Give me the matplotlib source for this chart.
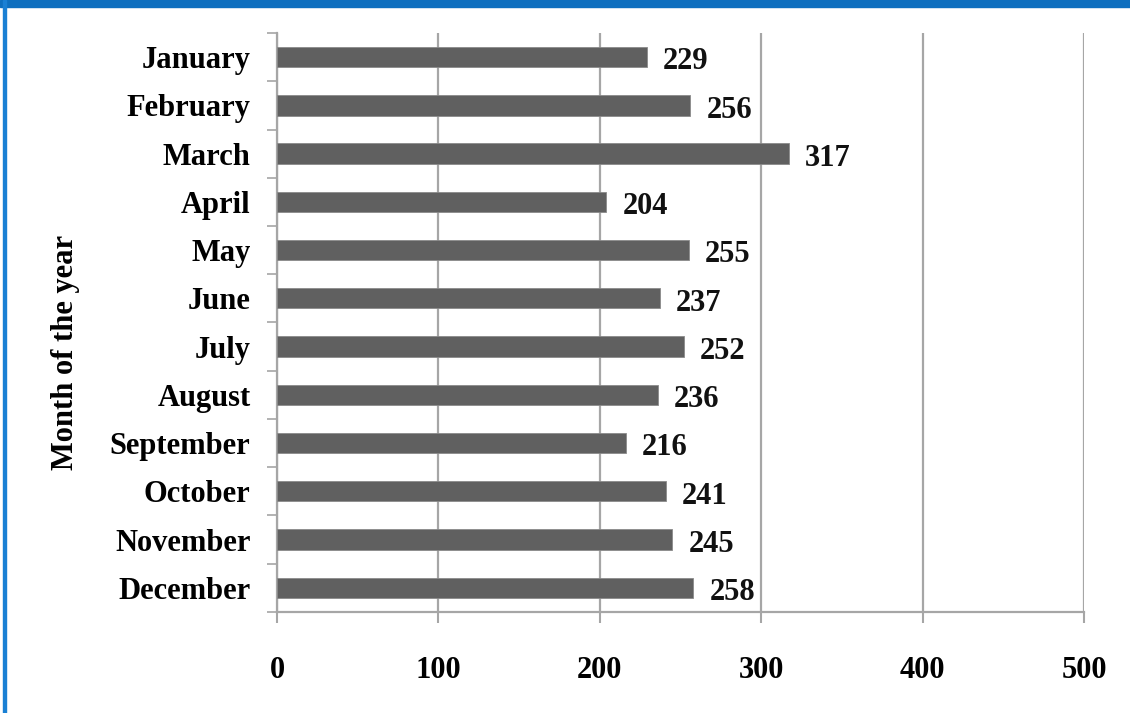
import numpy as np
import matplotlib
matplotlib.use('Agg')
import matplotlib.pyplot as plt
from matplotlib.patches import Rectangle

# ── data ─────────────────────────────────────────────────────────────────────
months = ['January', 'February', 'March', 'April', 'May', 'June',
          'July', 'August', 'September', 'October', 'November', 'December']
counts = [229, 256, 317, 204, 255, 237, 252, 236, 216, 241, 245, 258]
x_ticks = [0, 100, 200, 300, 400, 500]

serif = ['Liberation Serif', 'DejaVu Serif']
bar_col = '#606060'
grid_col = '#a6a6a6'
fs = 22

fig = plt.figure(figsize=(11.3, 7.13), dpi=100)
ax = fig.add_axes([0.2451, 0.1417, 0.7142, 0.812])

y = np.arange(len(months))
ax.barh(y, counts, height=0.42, color=bar_col, edgecolor='#8a8a8a', lw=0.6, zorder=3)

for yi, v in zip(y, counts):
    ax.text(v + 10, yi + 0.1, f'{v}', ha='left', va='center',
            fontsize=fs, fontweight='bold', family=serif, color='#111111')

ax.set_xlim(0, 500)
ax.set_ylim(len(months) - 0.5, -0.5)

# category ticks sit between bars (Excel style)
ax.set_yticks(np.arange(-0.5, len(months), 1.0))
ax.set_yticklabels([])
ax.set_yticks(y, minor=True)
ax.set_yticklabels(months, minor=True, fontsize=fs, fontweight='bold', family=serif)
ax.tick_params(axis='y', which='minor', length=0, pad=19)
ax.tick_params(axis='y', which='major', length=7, width=1.2, color=grid_col)

ax.set_xticks(x_ticks)
ax.set_xticklabels([str(t) for t in x_ticks], fontsize=fs, fontweight='bold', family=serif)
ax.tick_params(axis='x', length=8, width=1.5, color=grid_col, pad=24)

ax.xaxis.grid(True, color=grid_col, lw=1.6, zorder=0)
for s in ['top', 'right']:
    ax.spines[s].set_visible(False)
for s in ['left', 'bottom']:
    ax.spines[s].set_color(grid_col)
    ax.spines[s].set_linewidth(1.6)

ax.set_ylabel('Month of the year', fontsize=fs, fontweight='bold', family=serif)
ax.yaxis.set_label_coords(-0.244, 0.449)

# blue frame (top band + left edge)
fig.patches.append(Rectangle((0, 1 - 7 / 713), 1, 7 / 713, transform=fig.transFigure,
                             color='#0e6fbf', zorder=10))
fig.patches.append(Rectangle((3 / 1130, 0), 3 / 1130, 1, transform=fig.transFigure,
                             color='#1a80d4', zorder=10))

fig.savefig('out.png', dpi=100)
